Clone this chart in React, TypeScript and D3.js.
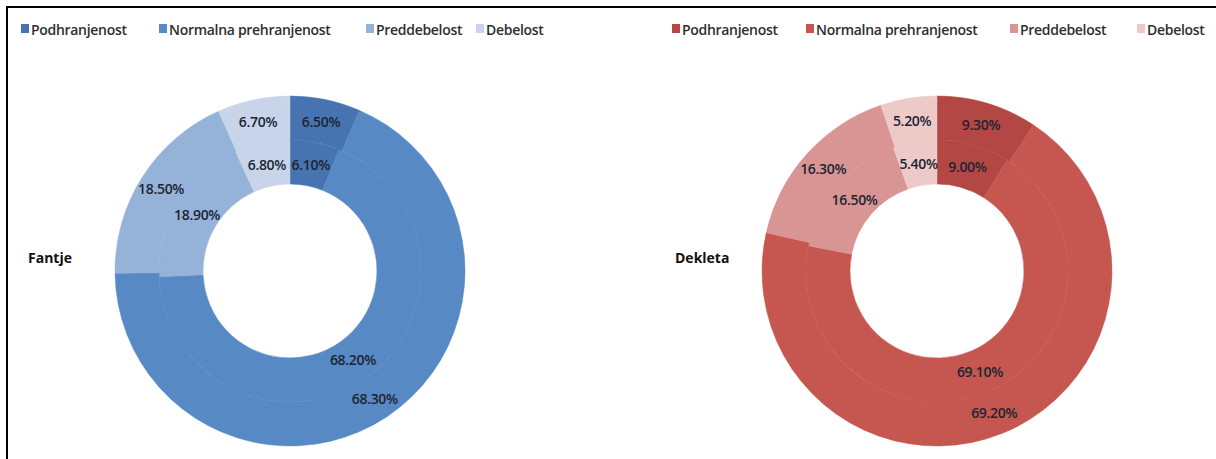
import React from "react";
import * as d3 from "d3";

const categories = ["Podhranjenost", "Normalna prehranjenost", "Preddebelost", "Debelost"];
const boysOuter = [6.5, 68.3, 18.5, 6.7];
const boysInner = [6.1, 68.2, 18.9, 6.8];
const girlsOuter = [9.3, 69.2, 16.3, 5.2];
const girlsInner = [9.0, 69.1, 16.5, 5.4];
const groupLabels = ["Fantje", "Dekleta"];

const blueColors = ["#4774b1", "#5789c4", "#95b2d8", "#c8d4e9"];
const redColors = ["#b34743", "#c65650", "#d99593", "#edc9c8"];

const W = 1216;
const H = 459;
const FONT = "'Open Sans', Lato, sans-serif";

type DonutProps = {
  cx: number;
  cy: number;
  outer: number[];
  inner: number[];
  colors: string[];
};

function Donut({ cx, cy, outer, inner, colors }: DonutProps) {
  const pie = d3.pie<number>().sort(null).value((d) => d);
  const rings = [
    { data: inner, r0: 87, r1: 131 },
    { data: outer, r0: 131, r1: 175 },
  ];
  return (
    <g transform={`translate(${cx},${cy})`}>
      {rings.map((ring, ri) => {
        const arc = d3.arc<d3.PieArcDatum<number>>().innerRadius(ring.r0).outerRadius(ring.r1);
        const arcs = pie(ring.data);
        return (
          <g key={ri}>
            {arcs.map((a, i) => (
              <path key={i} d={arc(a) || ""} fill={colors[i]} stroke={colors[i]} strokeWidth={0.5} />
            ))}
          </g>
        );
      })}
      {rings.map((ring, ri) => {
        const arc = d3.arc<d3.PieArcDatum<number>>().innerRadius(ring.r0).outerRadius(ring.r1);
        const arcs = pie(ring.data);
        return (
          <g key={"l" + ri}>
            {arcs.map((a, i) => {
              const [x, y] = arc.centroid(a);
              return (
                <text
                  key={i}
                  x={x}
                  y={y}
                  textAnchor="middle"
                  dominantBaseline="central"
                  fontFamily={FONT}
                  fontSize={14}
                  fontWeight={600}
                  letterSpacing={-0.3}
                  fill="#1b2533"
                >
                  {a.data.toFixed(2)}%
                </text>
              );
            })}
          </g>
        );
      })}
    </g>
  );
}

function Legend({ x, y, colors, offsets }: { x: number; y: number; colors: string[]; offsets: number[] }) {
  return (
    <g transform={`translate(${x},${y})`}>
      {categories.map((c, i) => (
        <g key={c} transform={`translate(${offsets[i]},0)`}>
          <rect x={0} y={-5} width={8} height={9} fill={colors[i]} />
          <text
            x={10}
            y={0}
            dominantBaseline="central"
            fontFamily={FONT}
            fontSize={14}
            fontWeight={600}
            letterSpacing={-0.3}
            fill="#2e2e2e"
          >
            {c}
          </text>
        </g>
      ))}
    </g>
  );
}

export default function App() {
  return (
    <svg
      width={W}
      height={H}
      style={{ position: "absolute", left: 0, top: 0, display: "block", background: "#fff" }}
    >
      <line x1={6} y1={7} x2={W} y2={7} stroke="#000" strokeWidth={2} />
      <line x1={7} y1={6} x2={7} y2={H} stroke="#000" strokeWidth={2} />
      <Legend x={21} y={29} colors={blueColors} offsets={[0, 138, 345, 455]} />
      <Legend x={672} y={29} colors={redColors} offsets={[0, 134, 338, 465]} />
      <Donut cx={290} cy={271} outer={boysOuter} inner={boysInner} colors={blueColors} />
      <Donut cx={937} cy={271} outer={girlsOuter} inner={girlsInner} colors={redColors} />
      <text x={28} y={257} dominantBaseline="central" fontFamily={FONT} fontWeight="bold" fontSize={14} fill="#111">
        {groupLabels[0]}
      </text>
      <text x={675} y={257} dominantBaseline="central" fontFamily={FONT} fontWeight="bold" fontSize={14} fill="#111">
        {groupLabels[1]}
      </text>
    </svg>
  );
}
